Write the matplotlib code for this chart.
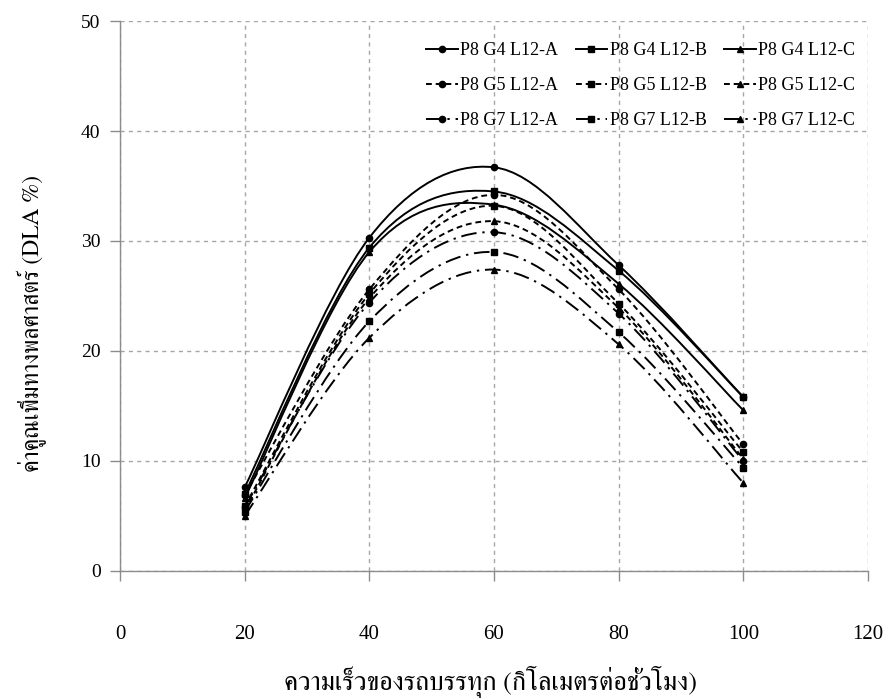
import matplotlib
matplotlib.use("Agg")
import matplotlib.pyplot as plt
from matplotlib.path import Path
from matplotlib.patches import PathPatch
from matplotlib.lines import Line2D

# Truck speed (km/h)
speeds = [20, 40, 60, 80, 100]

# Dynamic load allowance (DLA %) for each configuration
g4_a = [7.6, 30.3, 36.7, 27.8, 15.8]
g4_b = [7.0, 29.4, 34.5, 27.3, 15.8]
g4_c = [6.6, 29.0, 33.3, 26.1, 14.6]
g5_a = [6.9, 25.6, 34.2, 25.6, 11.5]
g5_b = [5.9, 25.2, 33.2, 24.3, 10.8]
g5_c = [5.5, 24.8, 31.8, 23.9, 10.2]
g7_a = [5.8, 24.4, 30.8, 23.4, 10.0]
g7_b = [5.4, 22.7, 29.0, 21.7, 9.4]
g7_c = [5.0, 21.2, 27.4, 20.6, 8.0]

labels = ["P8 G4 L12-A", "P8 G4 L12-B", "P8 G4 L12-C",
          "P8 G5 L12-A", "P8 G5 L12-B", "P8 G5 L12-C",
          "P8 G7 L12-A", "P8 G7 L12-B", "P8 G7 L12-C"]
series = [g4_a, g4_b, g4_c, g5_a, g5_b, g5_c, g7_a, g7_b, g7_c]

x_ticks = [0, 20, 40, 60, 80, 100, 120]
y_ticks = [0, 10, 20, 30, 40, 50]

x_label = "ความเร็วของรถบรรทุก (กิโลเมตรต่อชั่วโมง)"
y_label = "ค่าคูณเพิ่มทางพลศาสตร์ (DLA %)"

dash_styles = {
    "G4": "-",
    "G5": (0, (3.0, 2.0)),
    "G7": (0, (8.0, 3.0, 1.2, 3.0)),
}
marker_styles = {"A": "o", "B": "s", "C": "^"}
marker_sizes = {"o": 4.5, "s": 5.0, "^": 5.0}

latin = ["Liberation Serif", "DejaVu Serif"]
thai = ["FreeSerif", "Liberation Serif", "DejaVu Sans"]


def smooth_path(xs, ys):
    """Cubic Bezier path through the points with Catmull-Rom style tangents."""
    pts = list(zip(xs, ys))
    n = len(pts)
    verts = [pts[0]]
    codes = [Path.MOVETO]
    for i in range(n - 1):
        p0 = pts[i - 1] if i > 0 else pts[i]
        p1 = pts[i]
        p2 = pts[i + 1]
        p3 = pts[i + 2] if i + 2 < n else pts[i + 1]
        c1 = (p1[0] + (p2[0] - p0[0]) / 6.0, p1[1] + (p2[1] - p0[1]) / 6.0)
        c2 = (p2[0] - (p3[0] - p1[0]) / 6.0, p2[1] - (p3[1] - p1[1]) / 6.0)
        verts += [c1, c2, p2]
        codes += [Path.CURVE4, Path.CURVE4, Path.CURVE4]
    return Path(verts, codes)


fig = plt.figure(figsize=(8.88, 6.98), dpi=100)
ax = fig.add_axes([0.1351, 0.182, 0.8424, 0.7879])

handles = []
for name, vals in zip(labels, series):
    group = name.split()[1]
    variant = name.split("-")[-1]
    ls = dash_styles[group]
    mk = marker_styles[variant]
    ms = marker_sizes[mk]
    patch = PathPatch(smooth_path(speeds, vals), facecolor="none",
                      edgecolor="black", linewidth=1.4, linestyle=ls,
                      zorder=3)
    ax.add_patch(patch)
    ax.plot(speeds, vals, linestyle="none", marker=mk, markersize=ms,
            color="black", zorder=4)
    handles.append(Line2D([], [], color="black", linewidth=1.4, linestyle=ls,
                          marker=mk, markersize=ms))

ax.set_xlim(0, 120)
ax.set_ylim(0, 50)
ax.set_xticks(x_ticks)
ax.set_yticks(y_ticks)
ax.set_xticklabels([str(v) for v in x_ticks], family=latin, fontsize=15)
ax.set_yticklabels([str(v) for v in y_ticks], family=latin, fontsize=14)

ax.grid(True, color="#a6a6a6", linestyle=(0, (3, 3)), linewidth=1.0)
ax.set_axisbelow(True)
for side in ("top", "right"):
    ax.spines[side].set_visible(False)
for side in ("left", "bottom"):
    ax.spines[side].set_color("#8c8c8c")
    ax.spines[side].set_linewidth(1.0)
ax.tick_params(axis="both", direction="out", length=7, width=1.0,
               color="#8c8c8c", labelcolor="black")
ax.tick_params(axis="x", pad=32)
ax.tick_params(axis="y", pad=7)

ax.set_xlabel(x_label, family=thai, fontsize=19)
ax.set_ylabel(y_label, family=thai, fontsize=17)
ax.xaxis.set_label_coords(0.495, -0.172)
ax.yaxis.set_label_coords(-0.098, 0.45)

# Legend rows run G4 / G5 / G7; matplotlib fills columns first
order = [0, 3, 6, 1, 4, 7, 2, 5, 8]
leg = ax.legend([handles[i] for i in order], [labels[i] for i in order],
                ncol=3, loc="upper right",
                bbox_to_anchor=(1.0, 0.985), frameon=False,
                prop={"family": latin, "size": 13},
                handlelength=1.75, handletextpad=0.15, columnspacing=0.95,
                labelspacing=1.0, borderaxespad=0.3)

fig.savefig("out.png", dpi=100)
